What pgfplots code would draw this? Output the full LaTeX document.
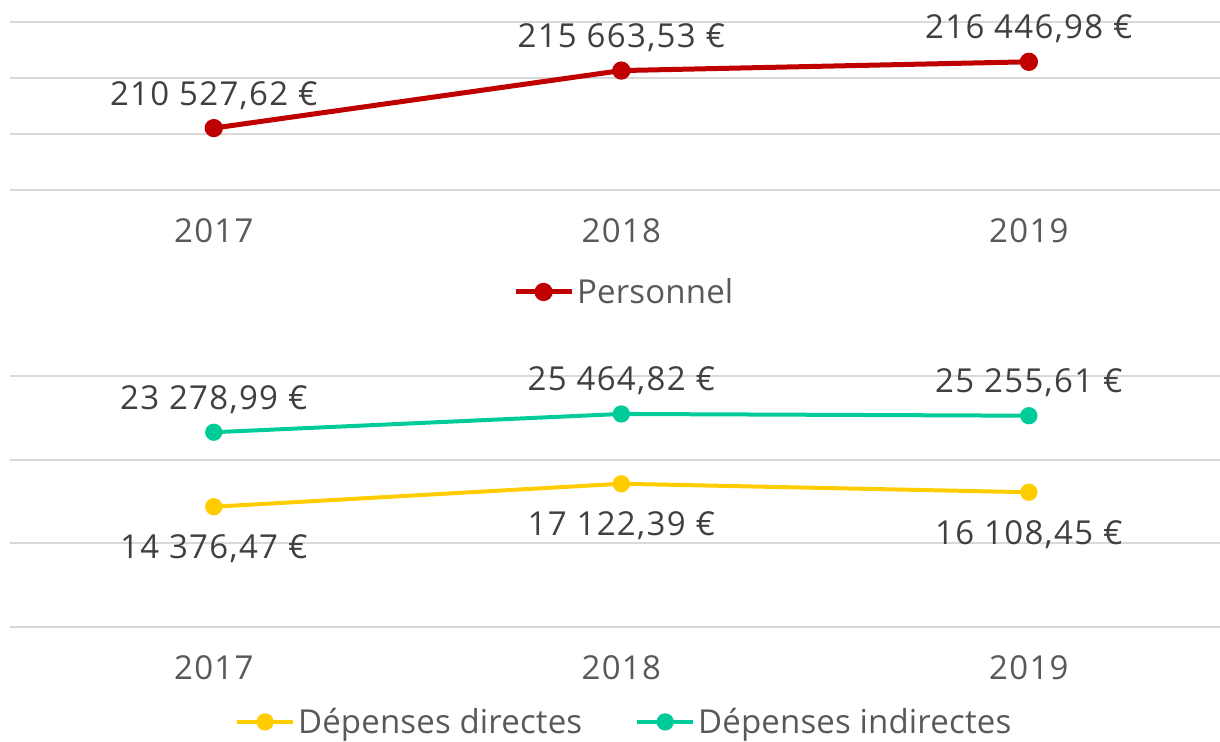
\documentclass[border=0pt]{standalone}
\usepackage{fontspec}
\setmainfont[LetterSpace=4]{Open Sans}
\newfontfamily\legfont[LetterSpace=0.5]{Open Sans}
\usepackage{pgfplots}
\pgfplotsset{compat=1.18}
\definecolor{cred}{HTML}{C00000}
\definecolor{cyel}{HTML}{FFCC00}
\definecolor{cteal}{HTML}{00CC99}
\definecolor{gridgray}{HTML}{D9D9D9}
\definecolor{tickgray}{HTML}{595959}
\definecolor{labgray}{HTML}{404040}
\pgfplotsset{
  base/.style={
    anchor=south west, scale only axis, width=605pt,
    xmin=-0.5, xmax=2.469,
    xtick={0,1,2}, xticklabels={2017,2018,2019},
    yticklabels={}, scaled y ticks=false,
    ymajorgrids, major grid style={color=gridgray, line width=0.9pt},
    axis line style={draw=none}, tick style={draw=none},
    xticklabel style={anchor=base, yshift=-26pt, font=\fontsize{16.5}{20}\selectfont, text=tickgray},
    clip=false,
    nodes near coords, point meta=explicit symbolic,
    every node near coord/.append style={font=\fontsize{16.5}{20}\selectfont, text=labgray, anchor=base},
    legend style={draw=none, fill=none, font=\legfont\fontsize{16.5}{20}\selectfont, text=tickgray, inner sep=0pt,
      nodes={inner sep=1.5pt}, /tikz/every even column/.append style={column sep=25pt}},
    legend image code/.code={\draw[mark repeat=2,mark phase=2] plot coordinates {(0pt,0pt) (14pt,0pt) (28pt,0pt)};},
  }
}
\begin{document}
\begin{tikzpicture}
\path[use as bounding box] (0,0) rectangle (610pt,370.5pt);
\begin{axis}[base, at={(5pt,275.5pt)}, height=84pt,
  ymin=205000, ymax=220000, ytick={205000,210000,215000,220000},
  legend style={at={(0.508,-0.607)}, anchor=center}]
\addplot[color=cred, line width=2.5pt, mark=*, mark size=3.3pt,
  every node near coord/.append style={yshift=11.5pt}]
  coordinates {(0,210527.62) [210 527,62 €] (1,215663.53) [215 663,53 €] (2,216446.98) [216 446,98 €]};
\addlegendentry{Personnel}
\end{axis}
\begin{axis}[base, at={(5pt,57pt)}, height=125.5pt,
  ymin=0, ymax=30000, ytick={0,10000,20000,30000},
  legend columns=2,
  legend style={at={(0.508,-0.378)}, anchor=center}]
\addplot[color=cyel, line width=2pt, mark=*, mark size=3.3pt,
  every node near coord/.append style={yshift=-26pt}]
  coordinates {(0,14376.47) [14 376,47 €] (1,17122.39) [17 122,39 €] (2,16108.45) [16 108,45 €]};
\addlegendentry{Dépenses directes}
\addplot[color=cteal, line width=2pt, mark=*, mark size=3.3pt,
  every node near coord/.append style={yshift=11.5pt}]
  coordinates {(0,23278.99) [23 278,99 €] (1,25464.82) [25 464,82 €] (2,25255.61) [25 255,61 €]};
\addlegendentry{Dépenses indirectes}
\end{axis}
\end{tikzpicture}
\end{document}
